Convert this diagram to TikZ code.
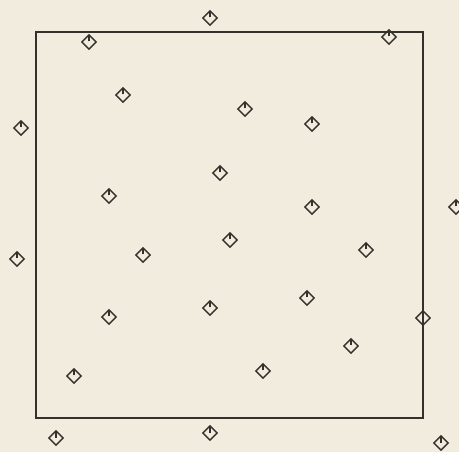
\documentclass[tikz,border=0pt]{standalone}
\usetikzlibrary{shapes.geometric}
\definecolor{paper}{RGB}{242,236,222}
\definecolor{ink}{RGB}{52,48,43}
\tikzset{
  mk/.style={diamond, draw=ink, line width=1.4pt, inner sep=0pt, minimum width=15pt, minimum height=15pt, aspect=1},
  tick/.style={draw=ink, line width=1.1pt},
  framebox/.style={draw=ink, line width=1.4pt}
}
\begin{document}
\begin{tikzpicture}[x=1pt,y=-1pt]
\fill[paper] (0,0) rectangle (459,452);
\useasboundingbox (0,0) rectangle (459,452);
\coordinate (tl) at (36,32);
\coordinate (br) at (423,418);
\draw[framebox] (tl) rectangle (br);
\foreach \i/\x/\y in {1/210/18, 2/89/42, 3/389/37, 4/123/95, 5/21/128, 6/245/109, 7/312/124, 8/220/173, 9/109/196, 10/312/207, 11/456/207, 12/17/259, 13/143/255, 14/230/240, 15/366/250, 16/109/317, 17/210/308, 18/307/298, 19/423/318, 20/351/346, 21/74/376, 22/263/371, 23/56/438, 24/210/433, 25/441/443}{
  \node[mk] (m\i) at (\x,\y) {};
  \draw[tick] ([yshift=0.5pt]m\i.center) -- ([yshift=-1.2pt]m\i.north);
}
\end{tikzpicture}
\end{document}
